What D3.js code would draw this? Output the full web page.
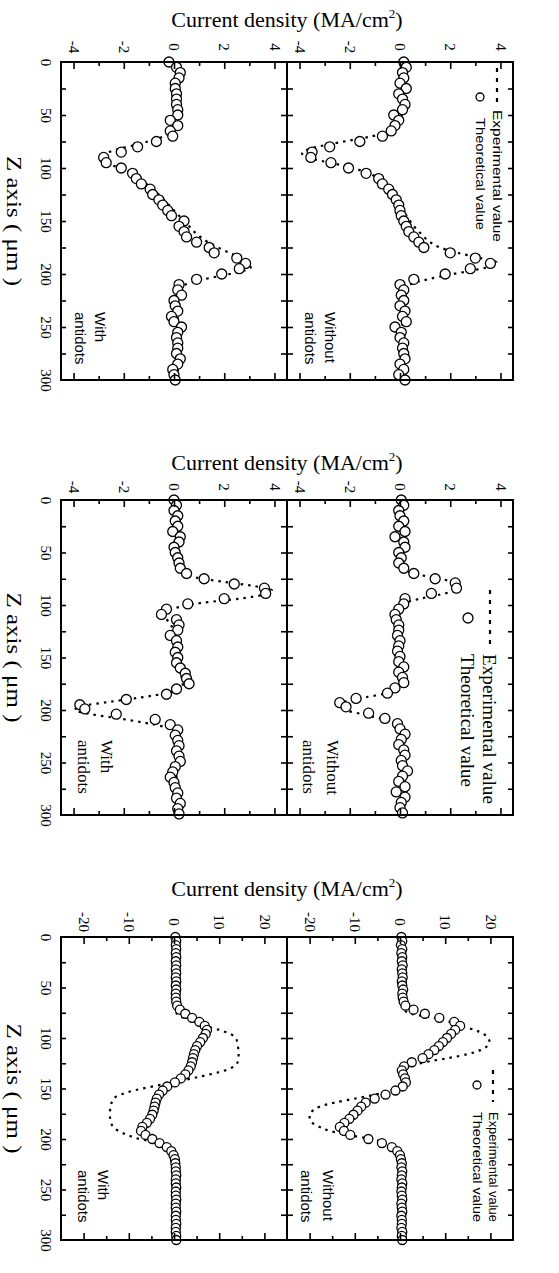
<!DOCTYPE html>
<html>
<head>
<meta charset="utf-8">
<script src="https://cdn.jsdelivr.net/npm/d3@7"></script>
<style>
body { margin: 0; background: #fff; }
svg { display: block; }
</style>
</head>
<body>
<svg width="559" height="1273"></svg>
<script>
'use strict';
(() => {

// Z axis (um) ticks
var zLabelTicks = [0, 50, 100, 150, 200, 250, 300];
var zTicks = [25, 50, 75, 100, 125, 150, 175, 200, 225, 250, 275];
// current density ticks (MA/cm2)
var smallTicks = [-4, -3, -2, -1, 0, 1, 2, 3, 4];
var smallLabels = [-4, -2, 0, 2, 4];
var bigTicks = [-20, -15, -10, -5, 0, 5, 10, 15, 20];
var bigLabels = [-20, -10, 0, 10, 20];

// ---- figure 1 ----  [z, current density]
var g1WithTheory = [[0,-0.2],[5,0.1],[10,0.25],[15,0.2],[20,0.05],[25,0.05],[30,0.1],[35,0.1],[40,0.1],[45,0.15],[50,0.15],[55,-0.15],[60,0.15],[65,-0.15],[70,-0.05],[75,-0.7],[80,-1.45],[85,-2.1],[90,-2.8],[95,-2.7],[100,-2.1],[105,-1.65],[110,-1.5],[115,-1.3],[120,-0.95],[125,-0.85],[130,-0.6],[135,-0.45],[140,-0.25],[145,-0.1],[150,0.4],[155,0.2],[160,0.4],[165,0.5],[170,0.9],[175,1.4],[180,1.6],[185,2.5],[190,2.85],[195,2.6],[200,1.9],[205,0.9],[210,0.2],[215,0.15],[220,0.3],[225,0],[230,0.05],[235,0.15],[240,-0.1],[245,0],[250,0.3],[255,0.15],[260,0.1],[265,0.15],[270,0.15],[275,0.1],[280,0.25],[285,0.15],[290,-0.05],[295,0],[300,0.05]];
var g1WithExp = [[0,0.15],[20,0.15],[40,0.15],[55,0.1],[62,0.05],[66,-0.1],[70,-0.4],[74,-0.9],[78,-1.5],[82,-2.2],[86,-2.7],[90,-2.95],[94,-2.85],[98,-2.4],[102,-1.95],[106,-1.65],[110,-1.4],[115,-1.1],[120,-0.85],[125,-0.6],[130,-0.4],[135,-0.2],[140,0],[145,0.2],[150,0.4],[155,0.6],[160,0.8],[165,1.05],[170,1.35],[175,1.75],[180,2.2],[185,2.7],[190,3.0],[194,3.05],[198,2.6],[202,1.8],[206,1.0],[210,0.45],[214,0.2],[220,0.15],[260,0.15],[300,0.15]];
var g1WithoutTheory = [[0,0.15],[5,0.25],[10,0.1],[15,0.15],[20,0],[25,0.25],[30,-0.05],[35,0.1],[40,0.2],[45,0.1],[50,-0.25],[55,-0.05],[60,-0.2],[65,-0.35],[70,-0.7],[75,-1.6],[80,-2.8],[85,-3.5],[90,-3.55],[95,-2.75],[100,-2.05],[105,-1.35],[110,-0.85],[115,-0.7],[120,-0.45],[125,-0.3],[130,-0.15],[135,-0.05],[140,0],[145,0.05],[150,0.15],[155,0.25],[160,0.35],[165,0.55],[170,0.75],[175,0.95],[180,2.0],[185,3.0],[190,3.6],[195,2.8],[200,1.8],[205,0.55],[210,0],[215,0.15],[220,0.05],[225,0.15],[230,0],[235,0.2],[240,0.1],[245,0.25],[250,-0.2],[255,0.05],[260,0],[265,0.15],[270,0.1],[275,0.15],[280,0.2],[285,0],[290,0.15],[295,-0.05],[300,0.2]];
var g1WithoutExp = [[0,0.1],[30,0.1],[55,0.05],[62,-0.2],[66,-0.5],[70,-1.1],[74,-2.0],[78,-2.9],[82,-3.6],[86,-3.9],[90,-3.7],[94,-3.0],[98,-2.2],[102,-1.6],[106,-1.15],[110,-0.85],[115,-0.6],[120,-0.4],[125,-0.25],[130,-0.1],[135,0],[140,0.1],[145,0.25],[150,0.4],[155,0.55],[160,0.75],[165,0.95],[170,1.2],[175,1.6],[180,2.3],[185,3.2],[189,3.85],[193,3.6],[197,2.8],[201,1.9],[205,1.1],[209,0.5],[213,0.2],[218,0.1],[300,0.1]];

// ---- figure 2 ----
var g2WithTheory = [[0,0],[5,0.1],[10,0],[15,0.15],[20,0.05],[25,0.15],[30,-0.05],[35,0.25],[40,0.2],[45,0],[50,0.05],[55,0.15],[60,0.2],[65,0.25],[70,0.5],[75,1.2],[80,2.4],[84,3.6],[89,3.65],[94,2.0],[99,0.55],[104,-0.3],[109,-0.5],[114,0.1],[119,0.2],[124,0.15],[129,-0.15],[134,0.1],[140,0.15],[145,0.05],[150,0.15],[155,0.1],[160,0.25],[165,0.45],[170,0.5],[175,0.6],[180,0.1],[185,-0.3],[190,-1.9],[195,-3.75],[199,-3.55],[204,-2.3],[209,-0.75],[214,-0.15],[219,0.15],[224,0.05],[229,0.15],[234,0.2],[239,0.1],[244,0.2],[249,0.25],[254,0.05],[259,-0.05],[264,-0.15],[269,0],[274,0.05],[279,0.15],[284,0.1],[289,0.25],[294,0.15],[299,0.2]];
var g2WithExp = [[0,0.1],[40,0.1],[66,0.15],[70,0.35],[74,0.9],[78,2.0],[82,3.2],[86,3.9],[90,3.6],[94,2.6],[98,1.1],[102,0.2],[106,-0.25],[110,-0.4],[115,-0.25],[120,-0.1],[125,0.05],[140,0.1],[160,0.2],[175,0.35],[180,0.3],[184,-0.3],[188,-1.3],[192,-2.5],[196,-3.6],[200,-3.95],[204,-3.3],[208,-2.2],[212,-1.2],[216,-0.4],[220,0],[226,0.1],[300,0.1]];
var g2WithoutTheory = [[0,0.05],[5,0.15],[10,-0.05],[15,0],[20,0.15],[25,-0.05],[30,0.2],[35,-0.2],[40,0.15],[45,0.2],[50,-0.05],[55,0.05],[60,-0.05],[65,0.15],[70,0.55],[75,1.4],[79,2.2],[84,2.25],[89,1.25],[94,0.2],[99,0.15],[104,-0.05],[109,-0.2],[114,-0.15],[119,-0.05],[124,-0.05],[129,-0.1],[134,0],[139,-0.05],[144,-0.1],[149,0],[154,-0.05],[159,0.15],[164,-0.05],[169,0.1],[174,0.15],[179,-0.2],[184,-0.5],[189,-1.75],[193,-2.4],[197,-2.15],[203,-1.25],[208,-0.6],[213,-0.1],[218,0],[223,0.2],[228,0.05],[233,-0.05],[238,0.15],[243,0.2],[248,0.05],[253,0.1],[258,0.3],[263,0.1],[268,-0.05],[273,0.2],[278,-0.15],[283,0.2],[288,0.05],[293,0],[298,0.1]];
var g2WithoutExp = [[0,0.05],[60,0.05],[66,0.15],[70,0.5],[74,1.4],[78,2.1],[82,2.35],[86,2.2],[90,1.6],[94,0.8],[98,0.2],[102,0],[180,0],[184,-0.5],[188,-1.4],[192,-2.2],[196,-2.45],[200,-2.2],[204,-1.5],[208,-0.8],[212,-0.25],[216,0],[300,0.05]];

// ---- figure 3 ----
var g3WithTheory = [[0,0.3],[4,0.5],[8,0.4],[12,0.5],[16,0.4],[20,0.5],[24,0.4],[28,0.5],[32,0.4],[36,0.5],[40,0.4],[44,0.5],[48,0.4],[52,0.5],[56,0.4],[60,0.4],[64,0.5],[68,0.7],[72,1.3],[76,2.5],[80,4.0],[84,5.6],[88,6.8],[92,7.3],[96,7.0],[100,6.4],[104,5.8],[108,5.1],[112,4.7],[116,4.4],[120,4.2],[124,4.0],[128,3.7],[132,3.2],[136,2.5],[140,1.5],[144,0.2],[148,-1.5],[152,-2.5],[156,-3.3],[160,-3.8],[164,-4.1],[168,-4.3],[172,-4.5],[176,-4.8],[180,-5.3],[184,-6.0],[188,-7.0],[192,-7.3],[196,-6.3],[200,-4.8],[204,-3.2],[208,-1.6],[212,-0.6],[216,-0.1],[220,0.2],[224,0.3],[228,0.4],[232,0.4],[236,0.5],[240,0.4],[244,0.4],[248,0.5],[252,0.4],[256,0.4],[260,0.5],[264,0.4],[268,0.4],[272,0.5],[276,0.4],[280,0.4],[284,0.5],[288,0.4],[292,0.4],[296,0.5],[300,0.5]];
var g3WithExp = [[0,0.4],[60,0.4],[76,0.6],[80,2.2],[84,4.8],[88,7.0],[92,10.0],[96,12.5],[100,13.6],[104,14.0],[110,14.2],[116,14.3],[122,14.2],[126,13.8],[130,12.5],[134,9.8],[138,6.0],[142,1.8],[146,-2.5],[150,-7.0],[154,-10.5],[158,-12.8],[163,-13.7],[170,-14.1],[176,-14.2],[182,-14.0],[188,-13.5],[192,-12.3],[196,-10.3],[199,-8.5],[202,-5.5],[205,-2.5],[208,-0.6],[212,0.3],[300,0.4]];
var g3WithoutTheory = [[0,0.3],[4,0.5],[8,0.2],[12,0.5],[16,0.3],[20,0.5],[24,0.4],[28,0.6],[32,0.4],[36,0.5],[40,0.6],[44,0.4],[48,0.5],[52,0.7],[56,0.5],[60,0.6],[64,0.8],[68,1.2],[72,3.0],[76,5.5],[80,8.7],[84,12.0],[88,13.3],[92,12.2],[96,11.3],[100,10.4],[104,9.5],[108,8.6],[112,7.6],[116,6.3],[120,5.0],[124,2.6],[128,0.9],[132,0.4],[136,0.7],[140,1.1],[144,1.3],[148,0.6],[152,-1.0],[156,-3.2],[160,-5.6],[164,-7.6],[168,-8.6],[172,-9.4],[176,-10.3],[180,-11.2],[184,-12.3],[188,-13.3],[192,-12.4],[196,-11.0],[200,-7.0],[204,-4.0],[208,-1.8],[212,-0.6],[216,0],[220,0.2],[224,0.4],[228,0.3],[232,0.5],[236,0.4],[240,0.3],[244,0.5],[248,0.4],[252,0.3],[256,0.4],[260,0.5],[264,0.3],[268,0.4],[272,0.5],[276,0.3],[280,0.4],[284,0.4],[288,0.3],[292,0.5],[296,0.4],[300,0.5]];
var g3WithoutExp = [[0,0.4],[70,0.5],[76,2.5],[80,7.5],[84,11.0],[88,13.5],[92,16.5],[96,18.5],[100,19.5],[104,19.8],[108,19.3],[112,17.8],[116,15.0],[120,10.5],[124,5.5],[128,2.5],[132,1.0],[140,0.6],[148,0.3],[152,-2.0],[156,-5.5],[160,-10.0],[164,-14.5],[168,-17.8],[172,-19.3],[176,-20.0],[180,-20.0],[184,-19.4],[188,-17.8],[192,-15.5],[196,-11.5],[200,-6.5],[204,-3.0],[208,-0.8],[212,0.3],[300,0.4]];

var SERIF = '"Liberation Serif", "Times New Roman", serif';
var SANS = '"Liberation Sans", Arial, sans-serif';
var colL = 61, colM = 287, colR = 513;
var DASH = '2.5,5';

var figures = [
  {top: 62, bottom: 380, dom: [-4.5, 4.5], ticks: smallTicks, labels: smallLabels, r: 5,
   panels: [g1WithTheory, g1WithExp, g1WithoutTheory, g1WithoutExp],
   titleY: 27, tickY: 47, nameFont: SANS, nameSize: 15, nameStart: 68,
   nameX: [100, 80, 330, 310],
   legend: {font: SANS, size: 12.5, dashX: 497, dashY: [68, 104], circX: 480, circY: 97, cr: 4,
            expY: 110, expLen: 132, theoY: 118, theoLen: 112}},
  {top: 500, bottom: 815, dom: [-4.5, 4.5], ticks: smallTicks, labels: smallLabels, r: 5,
   panels: [g2WithTheory, g2WithExp, g2WithoutTheory, g2WithoutExp],
   titleY: 470, tickY: 487, nameFont: SERIF, nameSize: 17, nameStart: 75,
   nameX: [107, 84, 333, 309],
   legend: {font: SERIF, size: 19, dashX: 490, dashY: [590, 648], circX: 468, circY: 618, cr: 5,
            expY: 654, expLen: 150, theoY: 654, theoLen: 133}},
  {top: 937, bottom: 1240, dom: [-25, 25], ticks: bigTicks, labels: bigLabels, r: 4.5,
   panels: [g3WithTheory, g3WithExp, g3WithoutTheory, g3WithoutExp],
   titleY: 896, tickY: 922, nameFont: SANS, nameSize: 15, nameStart: 70,
   nameX: [103, 83, 328, 306],
   legend: {font: SANS, size: 12, dashX: 493, dashY: [1070, 1102], circX: 477, circY: 1085, cr: 4,
            expY: 1112, expLen: 110, theoY: 1112, theoLen: 110}}
];

var svg = d3.select('svg');
svg.append('rect').attr('width', 559).attr('height', 1273).attr('fill', '#fff');

// rotated (top-to-bottom) text, x = centre of the glyph column
function vtext(parent, x, y, str, size, family, anchor, len) {
  var t = parent.append('text')
    .attr('transform', `translate(${x},${y}) rotate(90)`)
    .attr('font-size', size)
    .attr('font-family', family)
    .attr('text-anchor', anchor || 'start')
    .attr('dy', '0.35em')
    .attr('fill', '#000')
    .text(str);
  if (len) t.attr('textLength', len).attr('lengthAdjust', 'spacingAndGlyphs');
  return t;
}

function cleanAxis(sel) {
  sel.select('.domain').remove();
  sel.attr('font-family', SERIF).attr('font-size', 15);
  sel.selectAll('.tick line').attr('stroke', '#000').attr('stroke-width', 1.6);
}

figures.forEach(f => {
  var g = svg.append('g');
  var z = d3.scaleLinear().domain([0, 300]).range([f.top, f.bottom]);

  // title
  var title = g.append('text')
    .attr('x', colM).attr('y', f.titleY)
    .attr('text-anchor', 'middle')
    .attr('font-family', SERIF).attr('font-size', 22)
    .attr('fill', '#000');
  title.append('tspan').text('Current density (MA/cm');
  title.append('tspan').text('2').attr('font-size', 13).attr('dy', -9);
  title.append('tspan').text(')').attr('dy', 9);

  // z axis labels
  var zl = g.append('g').attr('transform', 'translate(46,0)')
    .call(d3.axisLeft(z).tickValues(zLabelTicks).tickSize(0).tickFormat(d => String(d)));
  cleanAxis(zl);
  zl.selectAll('.tick text')
    .attr('x', 0).attr('y', 0).attr('dy', '0.35em')
    .attr('text-anchor', 'middle').attr('transform', 'rotate(90)').attr('fill', '#000');

  vtext(g, 14, (f.top + f.bottom) / 2, 'Z axis ( \u03bcm )', 20, SERIF, 'middle', 130);

  [[colL, colM, 0], [colM, colR, 1]].forEach(([x0, x1, side]) => {
    var x = d3.scaleLinear().domain(f.dom).range([x0, x1]);
    var theory = f.panels[side * 2];
    var exp = f.panels[side * 2 + 1];

    // experimental: dotted curve
    var line = d3.line().x(d => x(d[1])).y(d => z(d[0])).curve(d3.curveMonotoneY);
    g.append('path').datum(exp)
      .attr('d', line)
      .attr('fill', 'none').attr('stroke', '#000')
      .attr('stroke-width', 2.2).attr('stroke-dasharray', DASH);

    // theoretical: open circles
    g.append('g').selectAll('circle').data(theory).join('circle')
      .attr('cx', d => x(d[1])).attr('cy', d => z(d[0])).attr('r', f.r)
      .attr('fill', '#fff').attr('stroke', '#000').attr('stroke-width', 1.3);

    // density ticks on top / bottom borders, pointing inward
    var top = g.append('g').attr('transform', `translate(0,${f.top})`)
      .call(d3.axisBottom(x).tickValues(f.ticks).tickSize(4).tickFormat(''));
    var bot = g.append('g').attr('transform', `translate(0,${f.bottom})`)
      .call(d3.axisTop(x).tickValues(f.ticks).tickSize(4).tickFormat(''));
    [top, bot].forEach(a => {
      cleanAxis(a);
      a.selectAll('.tick line').filter(d => f.labels.indexOf(d) >= 0)
        .attr('y2', a === top ? 7 : -7);
    });

    // density tick labels above the frame
    var lab = g.append('g').attr('transform', `translate(0,${f.tickY})`)
      .call(d3.axisTop(x).tickValues(f.labels).tickSize(0).tickFormat(d => String(d)));
    cleanAxis(lab);
    lab.selectAll('.tick text')
      .attr('x', 0).attr('y', 0).attr('dy', '0.35em')
      .attr('text-anchor', 'middle').attr('transform', 'rotate(90)').attr('fill', '#000');

    // panel name
    var nx = f.nameX.slice(side * 2, side * 2 + 2);
    var ny = f.bottom - f.nameStart;
    vtext(g, nx[0], ny, side === 0 ? 'With' : 'Without', f.nameSize, f.nameFont);
    vtext(g, nx[1], ny, 'antidots', f.nameSize, f.nameFont);
  });

  // z ticks: left border (inward), middle (both sides), right border (inward)
  var zt = [
    [colL, d3.axisRight(z), 5],
    [colM, d3.axisRight(z), 6],
    [colM, d3.axisLeft(z), 6],
    [colR, d3.axisLeft(z), 5]
  ];
  zt.forEach(([px, ax, len]) => {
    var a = g.append('g').attr('transform', `translate(${px},0)`)
      .call(ax.tickValues(zTicks).tickSize(len).tickFormat(''));
    cleanAxis(a);
  });

  // frames
  [[colL, colM], [colM, colR]].forEach(([x0, x1]) => {
    g.append('rect')
      .attr('x', x0).attr('y', f.top)
      .attr('width', x1 - x0).attr('height', f.bottom - f.top)
      .attr('fill', 'none').attr('stroke', '#000').attr('stroke-width', 2);
  });

  // legend (right panel)
  var L = f.legend;
  g.append('line')
    .attr('x1', L.dashX).attr('x2', L.dashX)
    .attr('y1', L.dashY[0]).attr('y2', L.dashY[1])
    .attr('stroke', '#000').attr('stroke-width', 2.2).attr('stroke-dasharray', '4,6');
  g.append('circle')
    .attr('cx', L.circX).attr('cy', L.circY).attr('r', L.cr)
    .attr('fill', '#fff').attr('stroke', '#000').attr('stroke-width', 1.3);
  vtext(g, L.dashX, L.expY, 'Experimental value', L.size, L.font, 'start', L.expLen);
  vtext(g, L.circX, L.theoY, 'Theoretical value', L.size, L.font, 'start', L.theoLen);
});

})();
</script>
</body>
</html>
